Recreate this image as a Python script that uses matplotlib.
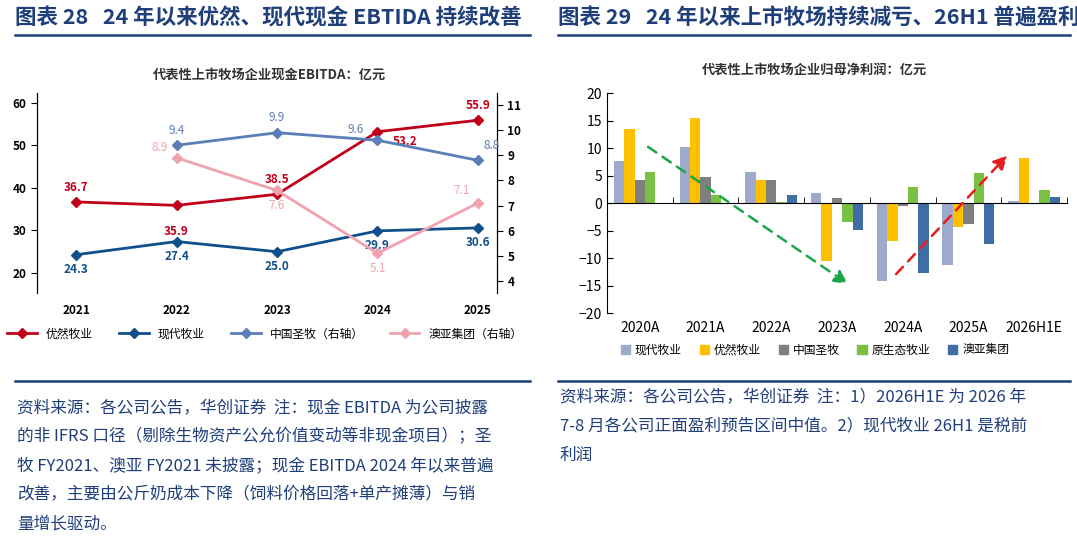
import numpy as np
import matplotlib
matplotlib.use('Agg')
import matplotlib.pyplot as plt
from matplotlib.lines import Line2D
from matplotlib.patches import Patch

plt.rcParams['font.family'] = ['Noto Sans CJK SC', 'DejaVu Sans']

# left chart data
years = ['2021', '2022', '2023', '2024', '2025']
youran = [36.7, 35.9, 38.5, 53.2, 55.9]
xiandai = [24.3, 27.4, 25.0, 29.9, 30.6]
shengmu = [np.nan, 9.4, 9.9, 9.6, 8.8]
aoya = [np.nan, 8.9, 7.6, 5.1, 7.1]

# right chart data
periods = ['2020A', '2021A', '2022A', '2023A', '2024A', '2025A', '2026H1E']
np_xiandai = [7.7, 10.1, 5.6, 1.8, -14.1, -11.2, 0.4]
np_youran = [13.4, 15.5, 4.2, -10.5, -6.9, -4.3, 8.2]
np_shengmu = [4.1, 4.7, 4.2, 0.9, -0.6, -3.8, 0.0]
np_yuanshengtai = [5.7, 1.5, 0.2, -3.4, 2.9, 5.4, 2.4]
np_aoya = [0.0, 0.0, 1.5, -4.9, -12.7, -7.5, 1.1]

W, H = 1077, 554
fig = plt.figure(figsize=(W / 100, H / 100), dpi=100)
navy = '#1f3f7a'

def fx(px): return px / W
def fy(py): return 1 - py / H

# headers
fig.text(fx(15), fy(18), '图表 28   24 年以来优然、现代现金 EBTIDA 持续改善', fontsize=15.5,
         fontweight='bold', color=navy, va='center')
fig.text(fx(558), fy(18), '图表 29   24 年以来上市牧场持续减亏、26H1 普遍盈利', fontsize=15.5,
         fontweight='bold', color=navy, va='center')
for x0, x1 in [(15, 530), (558, 1070)]:
    fig.add_artist(Line2D([fx(x0), fx(x1)], [fy(35), fy(35)], color=navy, lw=1.8))
    fig.add_artist(Line2D([fx(x0), fx(x1)], [fy(381), fy(381)], color=navy, lw=1.8))

# ---- left chart
red, blue, lblue, pink = '#c0001b', '#0f4f8c', '#5b7db8', '#eea3ad'
ax = fig.add_axes([fx(37), fy(293), fx(460), 200 / H])
ax2 = ax.twinx()
x = np.arange(len(years))
ax.plot(x, youran, color=red, lw=2, marker='D', ms=5)
ax.plot(x, xiandai, color=blue, lw=2, marker='D', ms=5)
ax2.plot(x, shengmu, color=lblue, lw=2, marker='D', ms=5)
ax2.plot(x, aoya, color=pink, lw=2, marker='D', ms=5)
ax.set_ylim(15.3, 62.3)
ax2.set_ylim(3.52, 11.48)
ax.set_xlim(-0.39, 4.19)
ax.set_yticks([20, 30, 40, 50, 60])
ax2.set_yticks(range(4, 12))
ax.set_xticks(x)
ax.set_xticklabels(years, fontweight='bold', fontsize=9)
for a in (ax, ax2):
    a.tick_params(labelsize=8.5, length=4, direction='out')
    a.spines['top'].set_visible(False)
    a.spines['bottom'].set_visible(False)
ax.tick_params(axis='x', length=0, pad=8)
for lab in ax.get_yticklabels() + ax2.get_yticklabels():
    lab.set_fontweight('bold')

yo_off = [(0, 6), (0, -14), (0, 6), (20, -2), (0, 6)]
for i, v in enumerate(youran):
    dx, dy = yo_off[i]
    ax.annotate(f'{v}', (i, v), xytext=(dx, dy), textcoords='offset points',
                ha='center', va='bottom' if dy > 0 else 'top', color=red,
                fontsize=8.5, fontweight='bold')
for i, v in enumerate(xiandai):
    ax.annotate(f'{v}', (i, v), xytext=(0, -6), textcoords='offset points',
                ha='center', va='top', color=blue, fontsize=8.5, fontweight='bold')
sm_off = [None, (0, 6), (0, 6), (-16, 3), (10, 6)]
for i, v in enumerate(shengmu):
    if np.isnan(v):
        continue
    ax2.annotate(f'{v}', (i, v), xytext=sm_off[i], textcoords='offset points',
                 ha='center', va='bottom', color=lblue, fontsize=8.5)
ay_off = [None, (-12, 3), (0, -6), (0, -6), (-12, 4)]
for i, v in enumerate(aoya):
    if np.isnan(v):
        continue
    ax2.annotate(f'{v}', (i, v), xytext=ay_off[i], textcoords='offset points',
                 ha='center', va='bottom' if ay_off[i][1] > 0 else 'top', color=pink, fontsize=8.5)

fig.text(fx(270), fy(75), '代表性上市牧场企业现金EBITDA：亿元', ha='center', va='center',
         fontsize=9.5, fontweight='bold', color='#333333')
handles = [Line2D([], [], color=c, lw=2, marker='D', ms=5) for c in (red, blue, lblue, pink)]
fig.legend(handles, ['优然牧业', '现代牧业', '中国圣牧（右轴）', '澳亚集团（右轴）'],
           loc='center', bbox_to_anchor=(fx(265), fy(334)), ncol=4, frameon=False,
           fontsize=8.5, handlelength=2.5, columnspacing=2.2)

# ---- right chart
cols = ['#9eaacc', '#ffc000', '#7f7f7f', '#7ac043', '#3f6ea6']
names = ['现代牧业', '优然牧业', '中国圣牧', '原生态牧业', '澳亚集团']
series = [np_xiandai, np_youran, np_shengmu, np_yuanshengtai, np_aoya]
bx = fig.add_axes([fx(607), fy(313), fx(460), 220 / H])
xs = np.arange(len(periods))
bw = 0.158
for k, (vals, c) in enumerate(zip(series, cols)):
    bx.bar(xs + (k - 2) * bw, vals, bw, color=c)
bx.set_xlim(-0.5, 6.5)
bx.set_ylim(-20, 20)
bx.set_yticks(range(-20, 21, 5))
bx.set_xticks(xs)
bx.set_xticklabels(periods, fontsize=10)
bx.spines['top'].set_visible(False)
bx.spines['right'].set_visible(False)
bx.spines['bottom'].set_position(('data', 0))
bx.set_xticks(np.arange(-0.5, 7, 1), minor=True)
bx.tick_params(axis='x', which='major', length=0, pad=85)
bx.tick_params(axis='x', which='minor', length=4, direction='in')
bx.tick_params(axis='y', labelsize=10, direction='in', length=4)
bx.annotate('', xy=(3.2, -15), xytext=(0.09, 10.5),
            arrowprops=dict(arrowstyle='-|>,head_width=0.4,head_length=0.8', color='#1aa548',
                            lw=1.8, ls=(0, (4, 3))))
bx.annotate('', xy=(5.62, 9), xytext=(3.87, -13.3),
            arrowprops=dict(arrowstyle='-|>,head_width=0.4,head_length=0.8', color='#e81c1c',
                            lw=1.8, ls=(0, (4, 3))))
fig.text(fx(815), fy(70), '代表性上市牧场企业归母净利润：亿元', ha='center', va='center',
         fontsize=9.5, fontweight='bold', color='#333333')
fig.legend([Patch(color=c) for c in cols], names, loc='center',
           bbox_to_anchor=(fx(815), fy(350)), ncol=5, frameon=False, fontsize=8.5,
           handlelength=0.8, handleheight=0.8, columnspacing=1.5, handletextpad=0.4)

# footnotes
left_notes = ['资料来源：各公司公告，华创证券  注：现金 EBITDA 为公司披露',
              '的非 IFRS 口径（剔除生物资产公允价值变动等非现金项目）；圣',
              '牧 FY2021、澳亚 FY2021 未披露；现金 EBITDA 2024 年以来普遍',
              '改善，主要由公斤奶成本下降（饲料价格回落+单产摊薄）与销',
              '量增长驱动。']
for i, t in enumerate(left_notes):
    fig.text(fx(17), fy(408 + i * 29), t, fontsize=12, color=navy, va='center')
right_notes = ['资料来源：各公司公告，华创证券  注：1）2026H1E 为 2026 年',
               '7-8 月各公司正面盈利预告区间中值。2）现代牧业 26H1 是税前',
               '利润']
for i, t in enumerate(right_notes):
    fig.text(fx(560), fy(397 + i * 29), t, fontsize=12, color=navy, va='center')

fig.savefig('out.png', dpi=100)
